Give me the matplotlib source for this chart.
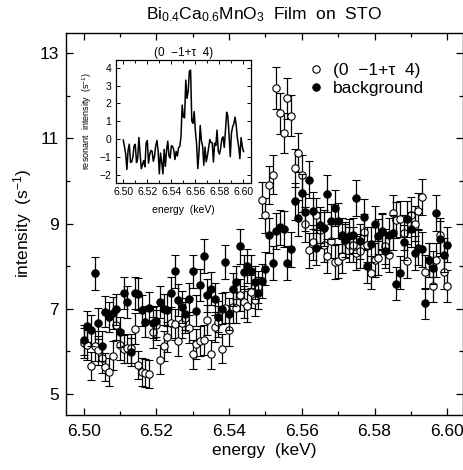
import numpy as np
import matplotlib
matplotlib.use("Agg")
import matplotlib.pyplot as plt
from matplotlib.ticker import MultipleLocator, FixedLocator
from matplotlib.lines import Line2D

plt.rcParams['font.family'] = ['Liberation Sans', 'DejaVu Sans']
plt.rcParams['mathtext.fontset'] = 'custom'
plt.rcParams['mathtext.rm'] = 'Liberation Sans'
plt.rcParams['mathtext.it'] = 'Liberation Sans:italic'

# ---------------- data ----------------
energy = [round(6.500 + 0.001 * i, 3) for i in range(101)]

peak_int = [6.2, 6.15, 5.66, 6.12, 6.02, 5.83, 5.62, 5.52, 5.89, 6.61,
            6.15, 6.05, 6.07, 6.07, 6.53, 5.67, 5.52, 5.48, 5.46, 6.44,
            6.61, 5.80, 6.12, 6.33, 6.67, 6.63, 6.23, 6.67, 6.79, 6.55,
            5.93, 6.16, 6.24, 6.27, 6.73, 5.93, 6.57, 6.69, 6.06, 7.02,
            6.49, 7.04, 7.02, 7.32, 7.16, 7.05, 7.4, 7.2, 7.5, 9.55,
            9.19, 9.91, 10.15, 12.18, 11.59, 11.12, 11.94, 11.54, 10.30, 10.67,
            10.15, 8.98, 8.37, 8.56, 9.19, 8.85, 8.5, 8.23, 8.59, 8.09,
            8.13, 8.23, 8.59, 8.5, 8.5, 8.31, 8.35, 8.8, 8.5, 7.84,
            8.15, 8.18, 8.82, 8.47, 8.25, 9.25, 9.09, 9.11, 8.78, 8.12,
            9.21, 9.0, 9.29, 9.62, 7.86, 8.15, 7.53, 8.15, 8.72, 7.86, 7.53]
peak_err = [.35, .35, .33, .35, .34, .34, .33, .33, .34, .36,
            .35, .34, .34, .34, .36, .33, .33, .33, .33, .36,
            .36, .34, .35, .35, .36, .36, .35, .36, .36, .36,
            .34, .35, .35, .35, .36, .34, .36, .36, .34, .37,
            .36, .37, .37, .38, .37, .37, .38, .38, .38, .43,
            .42, .44, .45, .49, .48, .47, .48, .48, .45, .46,
            .45, .42, .41, .41, .42, .42, .41, .40, .41, .40,
            .40, .40, .41, .41, .41, .40, .40, .42, .41, .39,
            .40, .40, .42, .41, .40, .43, .42, .42, .41, .40,
            .42, .42, .43, .43, .39, .40, .38, .40, .41, .39, .38]

bkg_int = [6.26, 6.58, 6.49, 7.83, 6.65, 6.12, 6.93, 6.80, 6.90, 6.98,
           6.45, 7.37, 7.16, 5.98, 7.36, 7.34, 6.96, 6.69, 7.02, 6.67,
           6.70, 7.15, 6.98, 6.97, 7.36, 7.88, 7.20, 7.04, 6.87, 7.22,
           7.88, 6.95, 7.55, 8.23, 7.31, 7.47, 7.22, 6.81, 7.0, 8.09,
           6.87, 7.45, 7.62, 8.47, 7.86, 8.00, 7.88, 7.62, 7.37, 7.65,
           7.94, 8.72, 8.08, 8.82, 8.91, 8.87, 8.08, 8.39, 9.52, 9.13,
           9.72, 9.26, 10.03, 9.30, 8.43, 8.96, 8.90, 9.70, 9.05, 9.37,
           9.07, 8.72, 8.62, 8.70, 8.72, 9.60, 8.58, 9.16, 8.00, 8.51,
           9.00, 8.7, 8.80, 8.35, 8.72, 8.78, 7.59, 7.84, 8.56, 9.11,
           8.86, 8.31, 8.43, 8.39, 7.12, 8.15, 7.96, 9.25, 8.64, 8.27, 8.5]
bkg_err = [.35, .36, .36, .39, .36, .35, .37, .36, .37, .37,
           .36, .38, .37, .34, .38, .38, .37, .36, .37, .36,
           .36, .37, .37, .37, .38, .39, .38, .37, .37, .38,
           .39, .37, .38, .40, .38, .38, .38, .37, .37, .40,
           .37, .38, .39, .41, .39, .40, .39, .39, .38, .39,
           .39, .41, .40, .42, .42, .42, .40, .41, .43, .42,
           .44, .43, .44, .43, .41, .42, .42, .44, .42, .43,
           .42, .41, .41, .41, .41, .43, .41, .42, .40, .41,
           .42, .41, .42, .40, .41, .41, .39, .39, .41, .42,
           .42, .40, .41, .41, .37, .40, .39, .43, .41, .40, .41]

resonant = [-0.06, -0.43, -0.83, -1.71, -0.63, -0.29, -1.31, -1.28, -1.01, -0.37,
            -0.30, -1.32, -1.09, 0.09, -0.83, -1.67, -1.44, -1.21, -1.56, -0.23,
            -0.09, -1.35, -0.86, -0.64, -0.69, -1.25, -0.97, -0.37, -0.08, -0.67,
            -1.95, -0.79, -1.31, -1.96, -0.58, -1.54, -0.65, -0.12, -0.94, -1.07,
            -0.38, -0.41, -0.60, -1.15, -0.70, -0.95, -0.48, -0.42, 0.13, 1.90,
            1.25, 1.19, 3.30, 2.28, 2.68, 3.80, 3.86, 1.00, 0.88, 1.54,
            0.43, -0.28, -1.66, -0.74, 0.76, -0.11, -0.40, -1.47, -0.46, -1.28,
            -0.94, -0.49, -0.03, -0.20, -0.22, -1.29, -0.23, -0.36, 0.50, -0.67,
            -0.85, -0.52, 0.02, 0.12, -0.47, 0.47, 1.50, 1.27, 0.22, -0.99,
            0.35, 0.69, 0.86, 1.23, 0.74, 0.00, -0.43, -1.10, 0.08, -0.41, -0.70]

xticks_main = [6.50, 6.52, 6.54, 6.56, 6.58, 6.60]
yticks_main = [5, 7, 9, 11, 13]
yticks_inset = [-2, -1, 0, 1, 2, 3, 4]

# ---------------- figure ----------------
fig = plt.figure(figsize=(4.63, 4.70), dpi=100)
ax = fig.add_axes([65.5 / 463, 1 - 414.5 / 470, (462.5 - 65.5) / 463, (414.5 - 33) / 470])

eb_kw = dict(fmt='o', ms=5.3, ecolor='black', elinewidth=0.9, capsize=3.0,
             capthick=0.9, mec='black', mew=0.8)
ax.errorbar(energy, peak_int, yerr=peak_err, mfc='white', zorder=2, **eb_kw)
ax.errorbar(energy, bkg_int, yerr=bkg_err, mfc='black', zorder=3, **eb_kw)

ax.set_xlim(6.495, 6.6042)
ax.set_ylim(4.51, 13.48)
ax.xaxis.set_major_locator(FixedLocator(xticks_main))
ax.xaxis.set_minor_locator(MultipleLocator(0.01))
ax.yaxis.set_major_locator(FixedLocator(yticks_main))
ax.yaxis.set_minor_locator(MultipleLocator(1))
ax.set_xticklabels(['%.2f' % v for v in xticks_main])
ax.tick_params(which='both', direction='in', top=True, right=True, width=0.9)
ax.tick_params(which='major', length=5, labelsize=12.5)
ax.tick_params(which='minor', length=3)
ax.tick_params(axis='x', which='major', pad=7)
ax.tick_params(axis='y', which='major', pad=5)
for s in ax.spines.values():
    s.set_linewidth(1.0)

ax.set_xlabel('energy  (keV)', fontsize=12.5, labelpad=3)
ax.set_ylabel('intensity  (s$^{-1}$)', fontsize=12.5, labelpad=4)
ax.set_title(r'Bi$_{0.4}$Ca$_{0.6}$MnO$_3$  Film  on  STO', fontsize=12.5, pad=10)

handles = [Line2D([], [], ls='none', marker='o', ms=5.3, mfc='white', mec='black', mew=0.8),
           Line2D([], [], ls='none', marker='o', ms=5.3, mfc='black', mec='black', mew=0.8)]
ax.legend(handles, ['(0  \u22121+\u03c4  4)', 'background'], loc='upper left',
          bbox_to_anchor=(0.579, 0.954), frameon=False, fontsize=12.5,
          handletextpad=0.45, handlelength=1.0, labelspacing=0.17, borderpad=0.2)

# ---------------- inset ----------------
ins = fig.add_axes([115.7 / 463, 1 - 182.7 / 470, 135 / 463, 122.7 / 470])
ins.plot(energy, resonant, color='black', lw=1.1)
ins.set_xlim(6.4937, 6.606)
ins.set_ylim(-2.45, 4.43)
ins.xaxis.set_major_locator(FixedLocator(xticks_main))
ins.xaxis.set_minor_locator(MultipleLocator(0.01))
ins.yaxis.set_major_locator(FixedLocator(yticks_inset))
ins.set_xticklabels(['%.2f' % v for v in xticks_main])
ins.tick_params(which='both', direction='in', top=True, right=True, width=0.7)
ins.tick_params(which='major', length=3, labelsize=7.5, pad=3)
ins.tick_params(which='minor', length=2)
for s in ins.spines.values():
    s.set_linewidth(0.9)
ins.set_xlabel('energy  (keV)', fontsize=7.5, labelpad=6)
ins.set_ylabel('resonant  intensity  (s$^{-1}$)', fontsize=6.5, labelpad=4)
ins.set_title('(0  \u22121+\u03c4  4)', fontsize=8.5, pad=3)

fig.savefig('out.png', dpi=100)
